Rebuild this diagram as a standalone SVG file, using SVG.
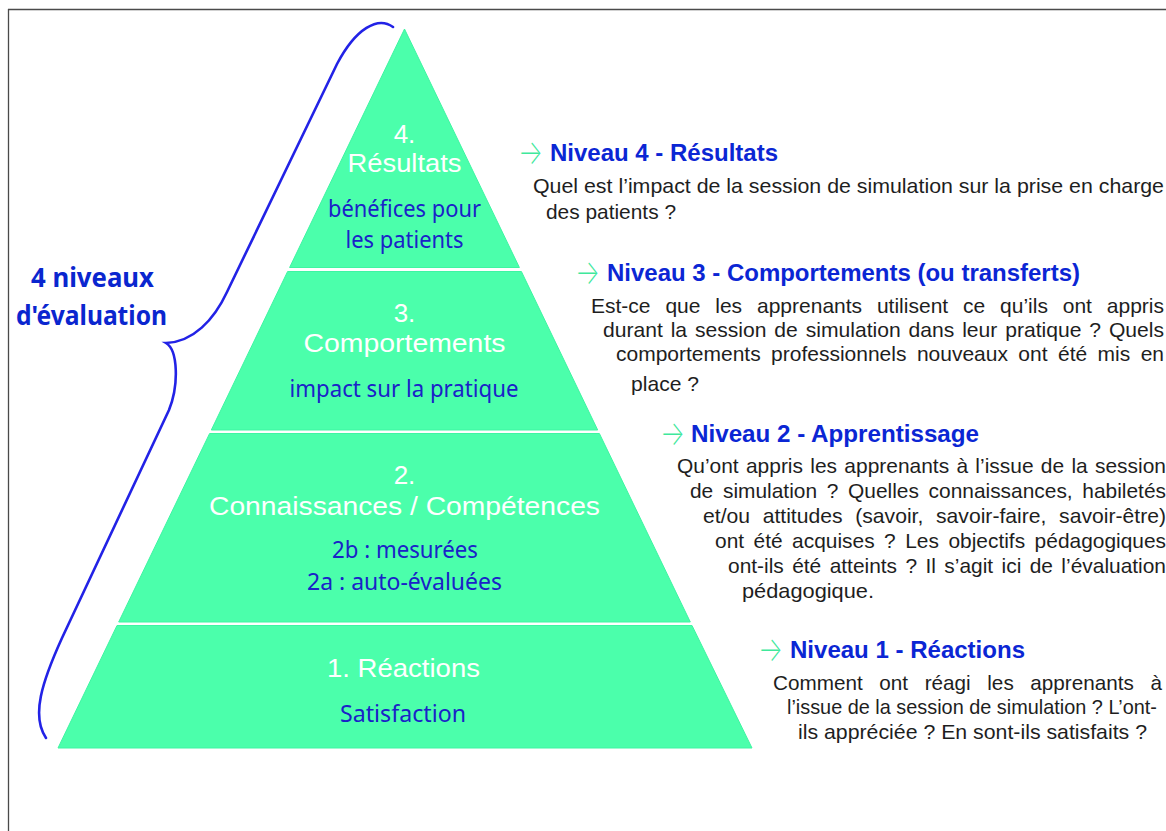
<svg xmlns="http://www.w3.org/2000/svg" width="1166" height="831" viewBox="0 0 1166 831">
<style>
.tier{fill:#4bffab;stroke:#3ef5a2;stroke-width:1}
.wh{font-family:"Liberation Sans",Arial,sans-serif;font-size:26px;fill:#ffffff;text-anchor:middle}
.bl{font-family:"Noto Sans","Open Sans",sans-serif;font-size:24px;fill:#1a22c8;text-anchor:middle}
.big{font-family:"Noto Sans","Open Sans",sans-serif;font-size:26px;font-weight:bold;fill:#0a26cf;text-anchor:middle}
.hd{font-family:"Liberation Sans",Arial,sans-serif;font-size:24px;font-weight:bold;fill:#0b26d4}
.ar{font-family:Inter,"DejaVu Sans",sans-serif;font-size:34px;font-weight:200;fill:#3fe89c}
.bd{font-family:"Liberation Sans",Arial,sans-serif;font-size:21px;fill:#1e1e1e}
</style>
<rect x="0" y="0" width="1166" height="831" fill="#ffffff"/>
<g id="frame" stroke="#4a4a4a" stroke-width="1.3" fill="none">
<line x1="8" y1="9.5" x2="1166" y2="9.5"/>
<line x1="8.5" y1="9" x2="8.5" y2="831"/>
</g>

<g id="tier4">
<polygon class="tier" points="404.5,29 519.4,267.5 289.6,267.5"/>
<text class="wh" x="404.5" y="143">4.</text>
<text class="wh" x="404.5" y="172" textLength="114" lengthAdjust="spacingAndGlyphs">Résultats</text>
<text class="bl" x="404.5" y="217" textLength="153" lengthAdjust="spacingAndGlyphs">bénéfices pour</text>
<text class="bl" x="404.5" y="248" textLength="118" lengthAdjust="spacingAndGlyphs">les patients</text>
</g>

<g id="tier3">
<polygon class="tier" points="287.6,271.5 521.4,271.5 597.7,430 211.3,430"/>
<text class="wh" x="404.5" y="322">3.</text>
<text class="wh" x="404.5" y="352" textLength="202" lengthAdjust="spacingAndGlyphs">Comportements</text>
<text class="bl" x="404" y="397" textLength="229" lengthAdjust="spacingAndGlyphs">impact sur la pratique</text>
</g>

<g id="tier2">
<polygon class="tier" points="209.6,433.5 599.4,433.5 690.3,622 118.7,622"/>
<text class="wh" x="404.5" y="484">2.</text>
<text class="wh" x="404.5" y="515" textLength="391" lengthAdjust="spacingAndGlyphs">Connaissances / Compétences</text>
<text class="bl" x="405" y="558" textLength="146" lengthAdjust="spacingAndGlyphs">2b : mesurées</text>
<text class="bl" x="404.5" y="590" textLength="195" lengthAdjust="spacingAndGlyphs">2a : auto-évaluées</text>
</g>

<g id="tier1">
<polygon class="tier" points="117,625.5 692,625.5 752,748 58,748"/>
<text class="wh" x="403.5" y="677" textLength="153" lengthAdjust="spacingAndGlyphs">1. Réactions</text>
<text class="bl" x="403" y="722" textLength="126" lengthAdjust="spacingAndGlyphs">Satisfaction</text>
</g>

<g id="brace" fill="none" stroke="#2222e6" stroke-width="2.6" stroke-linecap="round">
<path d="M393,27 C378,16 356,28 337,64 L227,292 C214,320 193,342 166,343 C178,350 179,385 169,410 L62,638 C42,682 31,716 46,738"/>
</g>

<g id="label-left">
<text class="big" x="92.5" y="287" textLength="123" lengthAdjust="spacingAndGlyphs">4 niveaux</text>
<text class="big" x="91.5" y="325" textLength="151" lengthAdjust="spacingAndGlyphs">d'évaluation</text>
</g>

<g id="level4">
<text class="ar" x="518" y="164" textLength="25" lengthAdjust="spacingAndGlyphs">→</text>
<text class="hd" x="550" y="161" textLength="228" lengthAdjust="spacingAndGlyphs">Niveau 4 - Résultats</text>
<text class="bd" x="533" y="193" textLength="631" lengthAdjust="spacingAndGlyphs">Quel est l’impact de la session de simulation sur la prise en charge</text>
<text class="bd" x="546" y="219" textLength="130" lengthAdjust="spacingAndGlyphs">des patients ?</text>
</g>

<g id="level3">
<text class="ar" x="575" y="284" textLength="25" lengthAdjust="spacingAndGlyphs">→</text>
<text class="hd" x="607" y="281" textLength="473" lengthAdjust="spacingAndGlyphs">Niveau 3 - Comportements (ou transferts)</text>
<text class="bd" x="591" y="313" word-spacing="9" textLength="573" lengthAdjust="spacingAndGlyphs">Est-ce que les apprenants utilisent ce qu’ils ont appris</text>
<text class="bd" x="603" y="337" word-spacing="2" textLength="561" lengthAdjust="spacingAndGlyphs">durant la session de simulation dans leur pratique ? Quels</text>
<text class="bd" x="616" y="361" word-spacing="4.6" textLength="548" lengthAdjust="spacingAndGlyphs">comportements professionnels nouveaux ont été mis en</text>
<text class="bd" x="631" y="391" textLength="68" lengthAdjust="spacingAndGlyphs">place ?</text>
</g>

<g id="level2">
<text class="ar" x="660" y="445" textLength="25" lengthAdjust="spacingAndGlyphs">→</text>
<text class="hd" x="691" y="442" textLength="288" lengthAdjust="spacingAndGlyphs">Niveau 2 - Apprentissage</text>
<text class="bd" x="677" y="473" word-spacing="1.5" textLength="489" lengthAdjust="spacingAndGlyphs">Qu’ont appris les apprenants à l’issue de la session</text>
<text class="bd" x="690" y="498" word-spacing="3.9" textLength="476" lengthAdjust="spacingAndGlyphs">de simulation ? Quelles connaissances, habiletés</text>
<text class="bd" x="703" y="523" word-spacing="6.7" textLength="463" lengthAdjust="spacingAndGlyphs">et/ou attitudes (savoir, savoir-faire, savoir-être)</text>
<text class="bd" x="715" y="548" word-spacing="3.7" textLength="451" lengthAdjust="spacingAndGlyphs">ont été acquises ? Les objectifs pédagogiques</text>
<text class="bd" x="728" y="573" word-spacing="2.6" textLength="438" lengthAdjust="spacingAndGlyphs">ont-ils été atteints ? Il s’agit ici de l’évaluation</text>
<text class="bd" x="742" y="598" textLength="132" lengthAdjust="spacingAndGlyphs">pédagogique.</text>
</g>

<g id="level1">
<text class="ar" x="758" y="661" textLength="25" lengthAdjust="spacingAndGlyphs">→</text>
<text class="hd" x="790" y="658" textLength="235" lengthAdjust="spacingAndGlyphs">Niveau 1 - Réactions</text>
<text class="bd" x="773" y="690" word-spacing="11" textLength="389" lengthAdjust="spacingAndGlyphs">Comment ont réagi les apprenants à</text>
<text class="bd" x="787" y="714" font-size="20" textLength="370" lengthAdjust="spacingAndGlyphs">l’issue de la session de simulation ? L’ont-</text>
<text class="bd" x="798" y="739" textLength="349" lengthAdjust="spacingAndGlyphs">ils appréciée ? En sont-ils satisfaits ?</text>
</g>
</svg>
